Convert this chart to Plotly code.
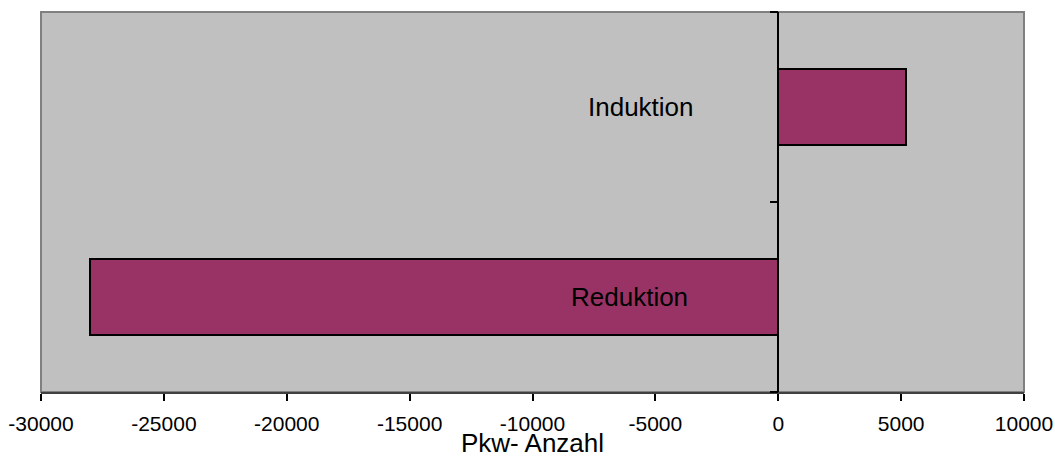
import plotly.graph_objects as go

# Pkw-Änderung nach Effekt
categories = ["Reduktion", "Induktion"]
values = [-28000, 5200]
x_ticks = [-30000, -25000, -20000, -15000, -10000, -5000, 0, 5000, 10000]
label_x = [-6060, -5580]
x_title = "Pkw- Anzahl"

bar_color = "#993366"
font_family = "Liberation Sans, Arial, sans-serif"

pos = list(range(len(categories)))

fig = go.Figure()
fig.add_trace(go.Bar(
    x=values,
    y=pos,
    orientation="h",
    width=0.395,
    marker=dict(color=bar_color, line=dict(color="black", width=2)),
    hoverinfo="x",
))

for xi, yi, name in zip(label_x, pos, categories):
    fig.add_annotation(x=xi, y=yi, xref="x", yref="y", text=name,
                       showarrow=False, xanchor="center", yanchor="middle",
                       font=dict(family=font_family, size=26, color="black"))

# Achsentitel unter den Teilstrichbeschriftungen
fig.add_annotation(x=0.5, y=-0.134, xref="paper", yref="paper", text=x_title,
                   showarrow=False, xanchor="center", yanchor="middle",
                   font=dict(family=font_family, size=26, color="black"))

# Rahmen der Zeichenfläche
fig.add_shape(type="rect", xref="paper", yref="paper", x0=0, x1=1, y0=0, y1=1,
              line=dict(color="#808080", width=2), layer="below")

fig.update_layout(
    width=1055, height=462,
    margin=dict(l=41, r=31, t=12, b=70, autoexpand=False),
    paper_bgcolor="white",
    plot_bgcolor="#C0C0C0",
    showlegend=False,
    bargap=0,
    font=dict(family=font_family, size=21, color="black"),
    xaxis=dict(
        range=[x_ticks[0], x_ticks[-1]],
        tickvals=x_ticks,
        ticktext=[str(v) for v in x_ticks],
        ticks="outside", ticklen=7, tickwidth=1.5, tickcolor="black",
        ticklabelstandoff=5,
        showline=True, linecolor="#404040", linewidth=2,
        showgrid=False, zeroline=False,
        tickfont=dict(size=21),
        automargin=False,
    ),
    yaxis=dict(
        range=[-0.5, len(categories) - 0.5],
        tickvals=[-0.5, 0.5, 1.5],
        showticklabels=False,
        ticks="outside", ticklen=8, tickwidth=1.5, tickcolor="black",
        showline=True, linecolor="black", linewidth=1.5,
        anchor="free",
        position=(0 - x_ticks[0]) / (x_ticks[-1] - x_ticks[0]),
        showgrid=False, zeroline=False,
        automargin=False,
    ),
)

fig.write_html("out.html")
